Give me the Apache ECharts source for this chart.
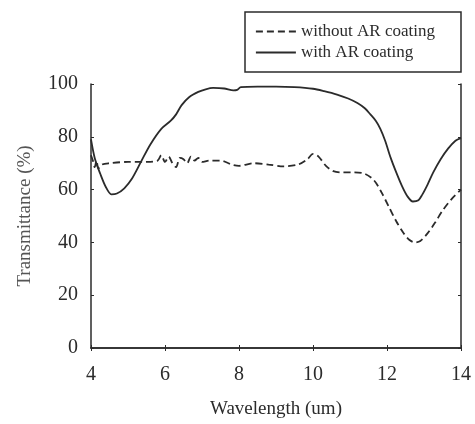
<!DOCTYPE html>
<html>
<head>
<meta charset="utf-8">
<script src="https://cdn.jsdelivr.net/npm/echarts@6/dist/echarts.min.js"></script>
<style>
  html, body { margin: 0; padding: 0; background: #fff; }
  #chart { width: 475px; height: 424px; }
</style>
</head>
<body>
<div id="chart"></div>
<script>
// wavelength (um) / transmittance (%)
var withArX = [4.0, 4.1, 4.25, 4.4, 4.55, 4.7, 4.9, 5.1, 5.35, 5.6, 5.9, 6.15, 6.3, 6.45, 6.65, 6.9, 7.1, 7.3, 7.6, 7.85, 7.95, 8.05, 8.5, 9.0, 9.5, 10.0, 10.3, 10.65, 10.95, 11.2, 11.4, 11.55, 11.7, 11.82, 11.95, 12.1, 12.25, 12.4, 12.55, 12.7, 12.85, 12.95, 13.1, 13.25, 13.45, 13.65, 13.85, 14.0];
var withArY = [79, 72, 66, 61, 58.2, 58.5, 60.5, 64, 70.5, 77, 83, 86, 88.5, 92, 95, 97, 98, 98.5, 98.3, 97.6, 97.8, 98.8, 99, 99, 98.8, 98.2, 97.3, 96, 94.5, 92.8, 90.8, 88.5, 86, 83, 78.5, 72, 66.5, 61.5, 57.5, 55.5, 56, 58, 62, 66.5, 71.5, 75.5, 78.5, 79.5];

var withoutArX = [4.0, 4.05, 4.1, 4.15, 4.2, 4.3, 4.5, 5.0, 5.5, 5.8, 5.9, 6.0, 6.1, 6.2, 6.3, 6.4, 6.5, 6.6, 6.7, 6.8, 6.9, 7.0, 7.2, 7.5, 7.8, 8.0, 8.4, 8.8, 9.2, 9.6, 9.85, 10.0, 10.15, 10.35, 10.55, 10.8, 11.1, 11.4, 11.65, 11.85, 12.05, 12.25, 12.45, 12.6, 12.75, 12.9, 13.1, 13.3, 13.5, 13.75, 14.0];
var withoutArY = [73, 71, 68.5, 71, 68, 69.5, 70, 70.5, 70.5, 71, 73, 70.5, 72.5, 70, 68.5, 72, 71.5, 70, 72.5, 71, 72, 70.5, 71, 71, 69.5, 69, 70, 69.5, 68.8, 69.5, 71.5, 73.5, 72.5, 69, 67, 66.5, 66.5, 66, 63.5, 59, 53.5, 48, 43.5, 41, 40, 40.5, 43.5, 47.5, 52, 56.5, 60];

var seriesNames = ['without AR coating', 'with AR coating'];

function pairs(xs, ys) {
  return xs.map(function (x, i) { return [x, ys[i]]; });
}

var font = '"Liberation Serif", "DejaVu Serif", serif';
var ink = '#2b2b2b';

var chart = echarts.init(document.getElementById('chart'), null, { renderer: 'canvas' });

// mirrored axes on top/right, ticks only
function mirrorAxis(extra) {
  return Object.assign({
    type: 'value',
    axisLine: { show: true, lineStyle: { color: ink, width: 1.5 } },
    axisTick: { show: true, inside: true, length: 3, lineStyle: { color: ink } },
    axisLabel: { show: false },
    splitLine: { show: false }
  }, extra);
}

var option = {
  animation: false,
  backgroundColor: '#fff',
  grid: { left: 91, right: 14, top: 84, bottom: 76 },
  legend: {
    orient: 'vertical',
    right: 14,
    top: 12,
    padding: [11, 26, 11, 10],
    itemGap: 4,
    itemWidth: 40,
    itemHeight: 14,
    borderColor: ink,
    borderWidth: 1.5,
    itemStyle: { opacity: 0 },
    lineStyle: { width: 1.8 },
    textStyle: { fontFamily: font, fontSize: 17, color: ink, lineHeight: 16 },
    data: seriesNames
  },
  xAxis: [{
    type: 'value',
    min: 4,
    max: 14,
    interval: 2,
    name: 'Wavelength (um)',
    nameLocation: 'middle',
    nameGap: 52,
    nameTextStyle: { fontFamily: font, fontSize: 19, color: ink },
    axisLine: { show: true, lineStyle: { color: ink, width: 1.5 } },
    axisTick: { show: true, inside: true, length: 3, lineStyle: { color: ink } },
    axisLabel: { fontFamily: font, fontSize: 20, color: ink, margin: 17 },
    splitLine: { show: false }
  }, mirrorAxis({ position: 'top', min: 4, max: 14, interval: 2 })],
  yAxis: [{
    type: 'value',
    min: 0,
    max: 100,
    interval: 20,
    name: 'Transmittance (%)',
    nameLocation: 'middle',
    nameGap: 56,
    nameTextStyle: { fontFamily: font, fontSize: 19, color: '#555' },
    axisLine: { show: true, lineStyle: { color: ink, width: 1.5 } },
    axisTick: { show: true, inside: true, length: 3, lineStyle: { color: ink } },
    axisLabel: { fontFamily: font, fontSize: 20, color: ink, margin: 13 },
    splitLine: { show: false }
  }, mirrorAxis({ position: 'right', min: 0, max: 100, interval: 20 })],
  series: [{
    name: seriesNames[0],
    type: 'line',
    data: pairs(withoutArX, withoutArY),
    symbol: 'none',
    smooth: 0.3,
    lineStyle: { color: ink, width: 1.8, type: [7, 4] },
    itemStyle: { color: ink }
  }, {
    name: seriesNames[1],
    type: 'line',
    data: pairs(withArX, withArY),
    symbol: 'none',
    smooth: 0.3,
    lineStyle: { color: ink, width: 1.8 },
    itemStyle: { color: ink }
  }]
};

chart.setOption(option);
</script>
</body>
</html>
